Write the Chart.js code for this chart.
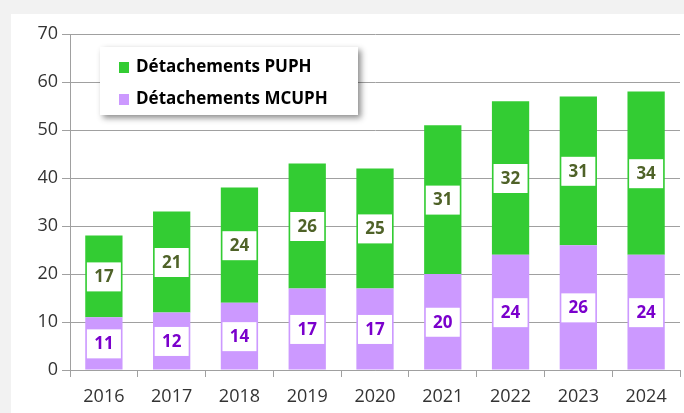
<!DOCTYPE html>
<html>
<head>
<meta charset="utf-8">
<script src="https://cdn.jsdelivr.net/npm/chart.js@4"></script>
<style>
  html, body { margin: 0; padding: 0; background: #f2f2f2; }
  #wrap { position: absolute; left: 11px; top: 14px; width: 673px; height: 399px; background: #fff; }
</style>
</head>
<body>
<div id="wrap"><canvas id="chart"></canvas></div>
<script>
const years = ['2016', '2017', '2018', '2019', '2020', '2021', '2022', '2023', '2024'];
const mcuph = [11, 12, 14, 17, 17, 20, 24, 26, 24];
const puph = [17, 21, 24, 26, 25, 31, 32, 31, 34];

const FONT = "'Open Sans', sans-serif";

// white boxes with the value in the middle of each segment
const valueBoxes = {
    id: 'valueBoxes',
    afterDatasetsDraw(chart) {
        const ctx = chart.ctx;
        chart.data.datasets.forEach(function (ds, i) {
            const meta = chart.getDatasetMeta(i);
            meta.data.forEach(function (bar, j) {
                const p = bar.getProps(['x', 'y', 'base'], true);
                const cy = (p.y + p.base) / 2;
                ctx.save();
                ctx.fillStyle = '#fff';
                ctx.fillRect(p.x - 17, cy - 14, 34, 29);
                ctx.fillStyle = ds.labelColor;
                ctx.font = 'bold 17px ' + FONT;
                ctx.textAlign = 'center';
                ctx.textBaseline = 'middle';
                ctx.fillText(ds.data[j], p.x, cy + 1);
                ctx.restore();
            });
        });
    }
};

// legend box inside the plot, with a shadow
const boxLegend = {
    id: 'boxLegend',
    afterDraw(chart) {
        const ctx = chart.ctx;
        const x = 89, y = 33, w = 258, h = 68;
        ctx.save();
        ctx.shadowColor = 'rgba(0,0,0,0.45)';
        ctx.shadowBlur = 6;
        ctx.shadowOffsetX = 3;
        ctx.shadowOffsetY = 3;
        ctx.fillStyle = '#fff';
        ctx.fillRect(x, y, w, h);
        ctx.restore();

        const items = [chart.data.datasets[1], chart.data.datasets[0]];
        ctx.save();
        ctx.font = 'bold 17px ' + FONT;
        ctx.textBaseline = 'middle';
        items.forEach(function (ds, k) {
            const ly = y + 20 + k * 32;
            ctx.fillStyle = ds.backgroundColor;
            ctx.fillRect(x + 19, ly - 5, 10, 11);
            ctx.fillStyle = '#000';
            ctx.fillText(ds.label, x + 36, ly);
        });
        ctx.restore();
    }
};

new Chart(document.getElementById('chart'), {
    type: 'bar',
    data: {
        labels: years,
        datasets: [
            {
                label: 'Détachements MCUPH',
                data: mcuph,
                backgroundColor: '#cc99ff',
                labelColor: '#7a00cc'
            },
            {
                label: 'Détachements PUPH',
                data: puph,
                backgroundColor: '#33cc33',
                labelColor: '#4f6228'
            }
        ]
    },
    options: {
        responsive: true,
        maintainAspectRatio: false,
        animation: false,
        layout: { padding: { top: 20, right: 4, left: 0, bottom: 0 } },
        datasets: { bar: { barPercentage: 0.55, categoryPercentage: 1 } },
        scales: {
            x: {
                stacked: true,
                grid: { offset: true, drawOnChartArea: false, tickLength: 7, color: '#a0a0a0' },
                border: { color: '#a0a0a0' },
                ticks: { color: '#333', font: { family: FONT, size: 18 }, padding: 9 },
                afterFit: function (scale) { scale.height = 43; }
            },
            y: {
                stacked: true,
                min: 0,
                max: 70,
                ticks: { stepSize: 10, color: '#333', font: { family: FONT, size: 18 }, padding: 4 },
                grid: { color: '#a0a0a0', tickLength: 8 },
                border: { color: '#a0a0a0' },
                afterFit: function (scale) { scale.width = 59; }
            }
        },
        plugins: {
            legend: { display: false },
            tooltip: { enabled: false }
        }
    },
    plugins: [valueBoxes, boxLegend]
});
</script>
</body>
</html>
